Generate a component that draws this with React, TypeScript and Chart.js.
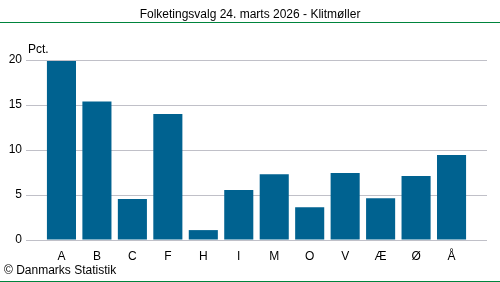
import React, { useEffect, useRef } from "react";
import { Chart, registerables } from "chart.js";

Chart.register(...registerables);

const categories = ["A", "B", "C", "F", "H", "I", "M", "O", "V", "Æ", "Ø", "Å"];
const values = [19.9, 15.4, 4.55, 14.0, 1.1, 5.55, 7.3, 3.65, 7.45, 4.65, 7.1, 9.45];
const yTicks = [0, 5, 10, 15, 20];
const titleText = "Folketingsvalg 24. marts 2026 - Klitmøller";
const unitText = "Pct.";
const sourceText = "© Danmarks Statistik";

const FONT = "'Liberation Sans', Arial, sans-serif";

export default function App() {
  const ref = useRef<HTMLCanvasElement | null>(null);

  useEffect(() => {
    document.body.style.margin = "0";
    const canvas = ref.current;
    if (!canvas) return;

    const deco = {
      id: "deco",
      afterDraw(chart: any) {
        const ctx = chart.ctx;
        ctx.save();
        ctx.strokeStyle = "#00843D";
        ctx.lineWidth = 1;
        ctx.beginPath();
        ctx.moveTo(0, 22.5);
        ctx.lineTo(500, 22.5);
        ctx.moveTo(0, 281.5);
        ctx.lineTo(500, 281.5);
        ctx.stroke();
        ctx.fillStyle = "#000";
        ctx.font = `12px ${FONT}`;
        ctx.textBaseline = "middle";
        ctx.textAlign = "center";
        ctx.fillText(titleText, 250, 15);
        ctx.textAlign = "left";
        ctx.fillText(unitText, 28, 50);
        ctx.fillText(sourceText, 4, 271);
        ctx.restore();
      },
    };

    const chart = new Chart(canvas, {
      type: "bar",
      data: {
        datasets: [
          {
            data: values.map((v, i) => ({ x: i, y: v })),
            backgroundColor: "#006290",
            borderWidth: 0,
            barPercentage: 0.82,
            categoryPercentage: 1,
          },
        ],
      },
      options: {
        responsive: false,
        animation: false,
        layout: { padding: { top: 60, right: 13, left: 0, bottom: 0 } },
        plugins: {
          legend: { display: false },
          title: { display: false },
          tooltip: { enabled: false },
        },
        scales: {
          x: {
            type: "linear",
            min: -1,
            max: 12,
            offset: false,
            afterFit: (s: any) => {
              s.height = 42;
            },
            afterBuildTicks: (s: any) => {
              s.ticks = categories.map((_, i) => ({ value: i }));
            },
            grid: { display: false, drawTicks: false },
            border: { display: false },
            ticks: {
              padding: 9,
              color: "#000",
              font: { family: FONT, size: 12 },
              callback: (v: any) => categories[v as number] ?? "",
              maxRotation: 0,
              autoSkip: false,
            },
          },
          y: {
            min: 0,
            max: 20,
            afterFit: (s: any) => {
              s.width = 26;
            },
            afterBuildTicks: (s: any) => {
              s.ticks = yTicks.map((v) => ({ value: v }));
            },
            grid: { color: "#c0c0c8", lineWidth: 1, drawTicks: false },
            border: { display: false },
            ticks: {
              padding: 4,
              color: "#000",
              font: { family: FONT, size: 12 },
            },
          },
        },
      },
      plugins: [deco],
    });

    return () => chart.destroy();
  }, []);

  return (
    <div style={{ width: 500, height: 282 }}>
      <canvas ref={ref} width={500} height={282} />
    </div>
  );
}
